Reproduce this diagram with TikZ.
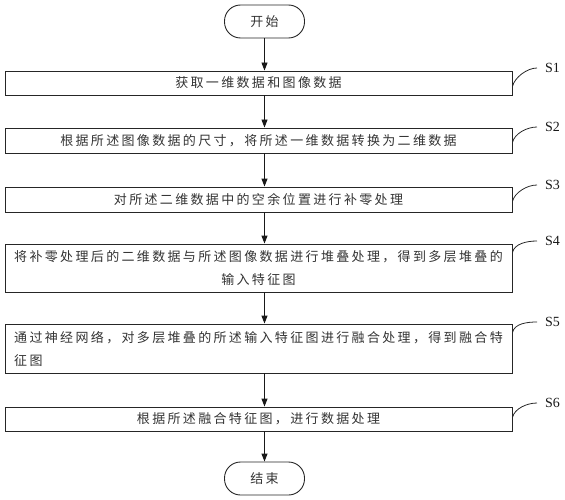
\documentclass[tikz,border=0pt]{standalone}
\usepackage{fontspec}
\newfontfamily\cjk[LetterSpace=18]{Noto Sans CJK SC}
\newfontfamily\labfont{Liberation Serif}
\usetikzlibrary{arrows.meta}
\begin{document}
\begin{tikzpicture}[x=1pt,y=-1pt,
  box/.style={draw=black!85, line width=0.9pt, minimum width=507pt, inner sep=0pt,
    font=\cjk\fontsize{13}{23}\selectfont, text=black!80},
  term/.style={draw=black!85, line width=0.9pt, rounded corners=16pt, minimum width=80pt,
    minimum height=33pt, inner sep=0pt, font=\cjk\fontsize{13}{15}\selectfont, text=black!80},
  arr/.style={-{Triangle[length=8pt,width=6pt]}, line width=0.9pt, draw=black!90},
  lbl/.style={font=\labfont\fontsize{14}{14}\selectfont, anchor=west, inner xsep=8pt, inner ysep=0pt, text=black!90},
  lead/.style={line width=0.8pt, draw=black!85}]
\useasboundingbox (0,0) rectangle (565,500);
\node[term] (st) at (264.5,21.5) {开始};
\node[box, minimum height=24pt] (s1) at (258.5,83) {获取一维数据和图像数据};
\node[box, minimum height=25pt] (s2) at (258.5,140.5) {根据所述图像数据的尺寸，将所述一维数据转换为二维数据};
\node[box, minimum height=25pt] (s3) at (258.5,199.5) {对所述二维数据中的空余位置进行补零处理};
\node[box, minimum height=48pt, align=center] (s4) at (258.5,268) {将补零处理后的二维数据与所述图像数据进行堆叠处理，得到多层堆叠的\\输入特征图};
\node[box, minimum height=49pt, align=left] (s5) at (258.5,348.5) {通过神经网络，对多层堆叠的所述输入特征图进行融合处理，得到融合特\\征图};
\node[box, minimum height=24pt] (s6) at (258.5,419) {根据所述融合特征图，进行数据处理};
\node[term] (en) at (264.5,478.5) {结束};
% arrows
\draw[arr] (st.south) -- (st.south |- s1.north);
\draw[arr] (st.south |- s1.south) -- (st.south |- s2.north);
\draw[arr] (st.south |- s2.south) -- (st.south |- s3.north);
\draw[arr] (st.south |- s3.south) -- (st.south |- s4.north);
\draw[arr] (st.south |- s4.south) -- (st.south |- s5.north);
\draw[arr] (st.south |- s5.south) -- (st.south |- s6.north);
\draw[arr] (st.south |- s6.south) -- (en.north);
% labels
\node[lbl] (l1) at (537,68) {S1};
\node[lbl] (l2) at (537,127) {S2};
\node[lbl] (l3) at (537,185) {S3};
\node[lbl] (l4) at (537,241) {S4};
\node[lbl] (l5) at (537,322) {S5};
\node[lbl] (l6) at (537,403) {S6};
\coordinate[yshift=-16pt] (c1) at (s1.north east);
\coordinate[yshift=-15pt] (c2) at (s2.north east);
\coordinate[yshift=-15pt] (c3) at (s3.north east);
\coordinate[yshift=-9pt] (c4) at (s4.north east);
\coordinate[yshift=-9pt] (c5) at (s5.north east);
\coordinate[yshift=-11pt] (c6) at (s6.north east);
\foreach \i in {1,...,6}{
  \draw[lead] (c\i) .. controls +(2,-9) and +(-10,0) .. (l\i.west);
}
\end{tikzpicture}
\end{document}
